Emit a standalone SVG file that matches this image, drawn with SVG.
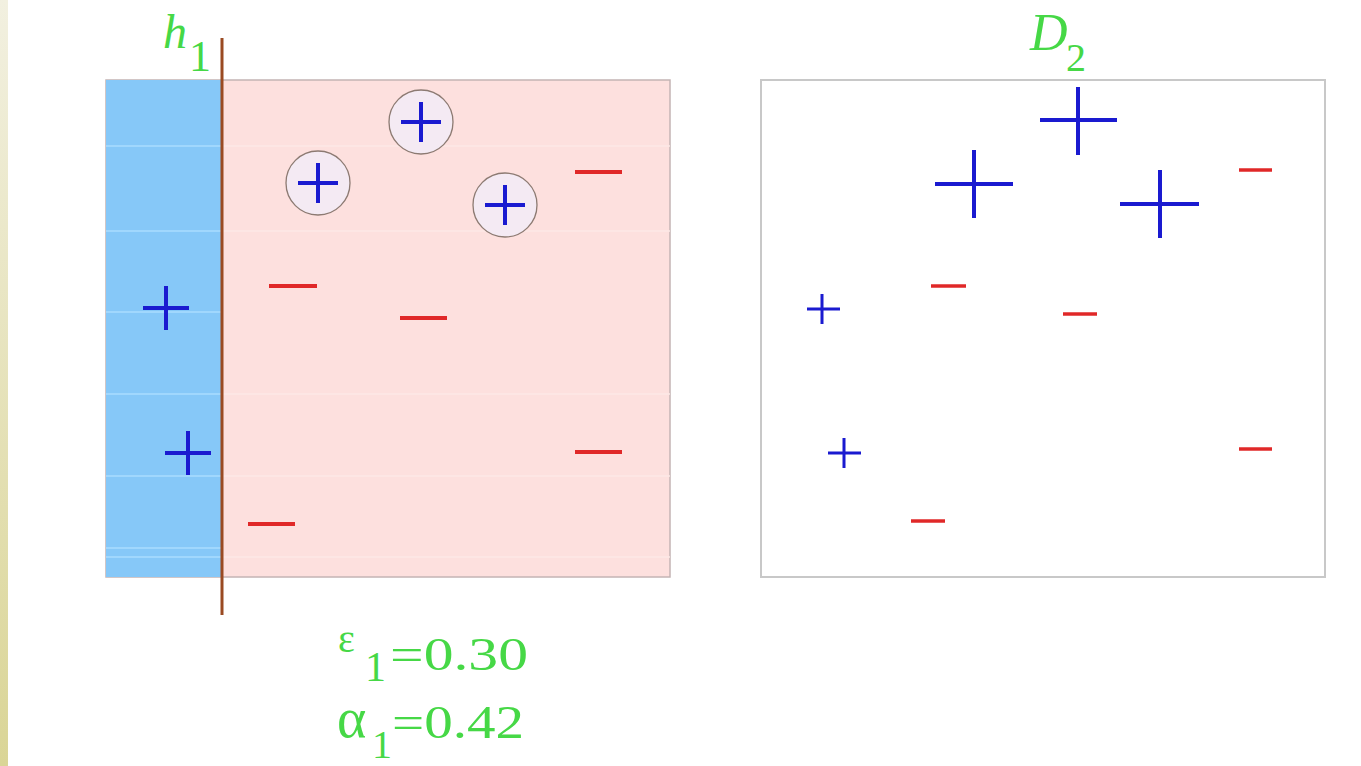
<svg xmlns="http://www.w3.org/2000/svg" width="1361" height="766" viewBox="0 0 1361 766">
<defs>
<linearGradient id="strip" x1="0" y1="0" x2="0" y2="1">
<stop offset="0" stop-color="#f2f0e0"/>
<stop offset="1" stop-color="#dad596"/>
</linearGradient>
<style>
.lbl{font-family:"Liberation Serif","DejaVu Serif",serif;fill:#46d846}
.it{font-style:italic}
.pos{stroke:#1a1ad0;stroke-width:4;fill:none}
.posT{stroke:#1a1ad0;stroke-width:3;fill:none}
.neg{stroke:#e02828;stroke-width:4;fill:none}
.negT{stroke:#e02828;stroke-width:3.5;fill:none}
.grid{stroke:#a8dcff;stroke-width:1.5}
.gridp{stroke:#fde8e6;stroke-width:1.5}
.ring{fill:#f4eaf3;stroke:#8c7a72;stroke-width:1.3}
</style>
</defs>
<rect x="0" y="0" width="1361" height="766" fill="#ffffff"/>
<rect x="0" y="0" width="8" height="766" fill="url(#strip)"/>

<g id="panel-left">
<rect x="106" y="80" width="564" height="497" fill="#fde0de" stroke="#c4b4b4" stroke-width="1.5"/>
<rect x="106" y="80" width="116" height="497" fill="#86c8f8"/>
<g class="grid">
<line x1="106" y1="146" x2="222" y2="146"/>
<line x1="106" y1="231" x2="222" y2="231"/>
<line x1="106" y1="312" x2="222" y2="312"/>
<line x1="106" y1="394" x2="222" y2="394"/>
<line x1="106" y1="476" x2="222" y2="476"/>
<line x1="106" y1="548" x2="222" y2="548"/>
<line x1="106" y1="557" x2="222" y2="557"/>
</g>
<g class="gridp">
<line x1="222" y1="146" x2="670" y2="146"/>
<line x1="222" y1="231" x2="670" y2="231"/>
<line x1="222" y1="394" x2="670" y2="394"/>
<line x1="222" y1="476" x2="670" y2="476"/>
<line x1="222" y1="557" x2="670" y2="557"/>
</g>
</g>

<g id="h1-line">
<line x1="222" y1="38" x2="222" y2="615" stroke="#9a4a22" stroke-width="3"/>
</g>

<g id="label-h1">
<text class="lbl it" x="163" y="48" font-size="48">h</text>
<text class="lbl" x="189" y="71" font-size="44">1</text>
</g>

<g id="circled-pos-1">
<circle class="ring" cx="421" cy="122" r="32"/>
<path class="pos" d="M401 122H441M421 102V142"/>
</g>
<g id="circled-pos-2">
<circle class="ring" cx="318" cy="183" r="32"/>
<path class="pos" d="M298 183H338M318 163V203"/>
</g>
<g id="circled-pos-3">
<circle class="ring" cx="505" cy="205" r="32"/>
<path class="pos" d="M485 205H525M505 185V225"/>
</g>

<g id="left-points">
<path class="pos" d="M143 308H189M166 286V330"/>
<path class="pos" d="M165 453H211M188 431V475"/>
<path class="neg" d="M269 286H317"/>
<path class="neg" d="M400 318H447"/>
<path class="neg" d="M575 172H622"/>
<path class="neg" d="M575 452H622"/>
<path class="neg" d="M248 524H295"/>
</g>

<g id="panel-right">
<rect x="761" y="80" width="564" height="497" fill="#ffffff" stroke="#c8c8c8" stroke-width="2"/>
</g>

<g id="label-D2">
<text class="lbl it" x="1030" y="50" font-size="52">D</text>
<text class="lbl" x="1066" y="71" font-size="40">2</text>
</g>

<g id="right-points">
<path class="pos" d="M935 184H1013M974 150V218"/>
<path class="pos" d="M1040 120H1117M1078 87V155"/>
<path class="pos" d="M1120 204H1199M1160 170V238"/>
<path class="posT" d="M807 309H840M822 294V324"/>
<path class="posT" d="M828 453H861M844 438V468"/>
<path class="negT" d="M1239 170H1272"/>
<path class="negT" d="M931 286H966"/>
<path class="negT" d="M1063 314H1097"/>
<path class="negT" d="M911 521H945"/>
<path class="negT" d="M1239 449H1272"/>
</g>

<g id="stats">
<text class="lbl" x="338" y="652" font-size="40">ε</text>
<text class="lbl" x="365" y="681" font-size="42">1</text>
<text class="lbl" x="390" y="670" font-size="46" textLength="138" lengthAdjust="spacingAndGlyphs">=0.30</text>
<text class="lbl" x="337" y="737" font-size="56">α</text>
<text class="lbl" x="372" y="758" font-size="40">1</text>
<text class="lbl" x="392" y="738" font-size="46" textLength="132" lengthAdjust="spacingAndGlyphs">=0.42</text>
</g>
</svg>
